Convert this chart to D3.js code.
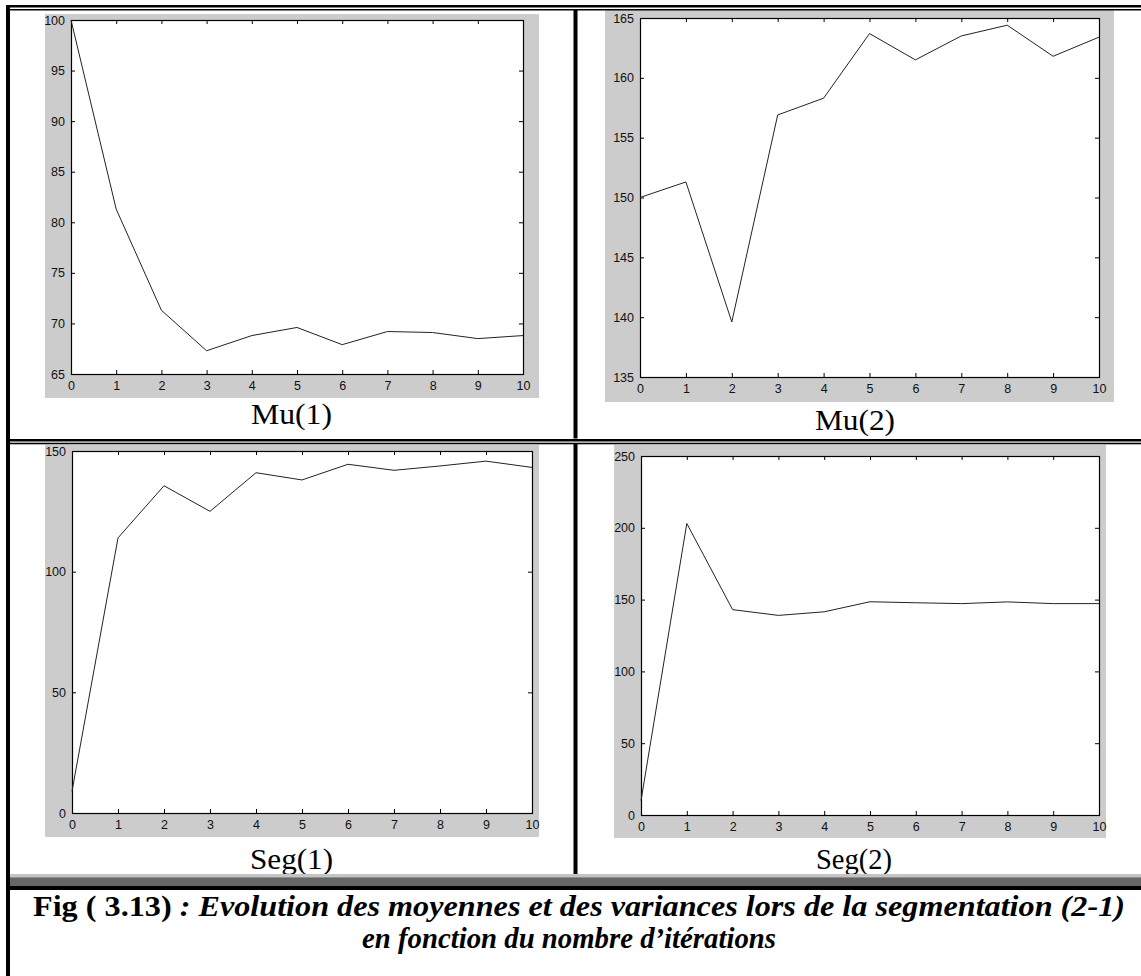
<!DOCTYPE html>
<html>
<head>
<meta charset="utf-8">
<script src="https://cdn.jsdelivr.net/npm/d3@7"></script>
<style>
  body { margin: 0; background: #fff; }
  svg { display: block; }
</style>
</head>
<body>
<script>
// iterations on the x axis
var iterations = [0, 1, 2, 3, 4, 5, 6, 7, 8, 9, 10];

// values
var mu1  = [100, 81.3, 71.3, 67.3, 68.8, 69.6, 67.9, 69.2, 69.1, 68.5, 68.8];
var mu2  = [150.0, 151.3, 139.6, 156.9, 158.3, 163.7, 161.5, 163.5, 164.4, 161.8, 163.4];
var seg1 = [9, 114, 135.6, 125, 141, 138, 144.5, 142, 143.8, 145.8, 143.2];
var seg2 = [10, 203, 143, 139, 141.5, 148.5, 147.8, 147.2, 148.4, 147.2, 147.2];

// tick labels
var mu1Ticks  = [65, 70, 75, 80, 85, 90, 95, 100];
var mu2Ticks  = [135, 140, 145, 150, 155, 160, 165];
var seg1Ticks = [0, 50, 100, 150];
var seg2Ticks = [0, 50, 100, 150, 200, 250];

var titles = ["Mu(1)", "Mu(2)", "Seg(1)", "Seg(2)"];

var sansFont  = "'Liberation Sans', Arial, sans-serif";
var serifFont = "'Liberation Serif', 'Times New Roman', serif";

// layout of the four sub figures (gray frame, axes box, label)
var layout = [
  { values: mu1,  dom: [65, 100],  ticks: mu1Ticks,
    gray: [45, 14, 539, 398],  box: [71, 20, 523, 374],  lab: [251, 424, 81] },
  { values: mu2,  dom: [135, 165], ticks: mu2Ticks,
    gray: [605, 10, 1114, 402], box: [640, 18, 1099, 377], lab: [815, 430, 80] },
  { values: seg1, dom: [0, 150],   ticks: seg1Ticks,
    gray: [45, 445, 539, 837], box: [72, 451, 532, 813], lab: [250, 869, 83] },
  { values: seg2, dom: [0, 250],   ticks: seg2Ticks,
    gray: [614, 445, 1106, 838], box: [641, 456, 1099, 815], lab: [816, 869, 76] }
];

var W = 1141, H = 976;
var svg = d3.select("body").append("svg")
    .attr("width", W)
    .attr("height", H);

// draw each sub figure
layout.forEach(function(p, k) {
  var g = svg.append("g");
  g.append("rect")
      .attr("x", p.gray[0]).attr("y", p.gray[1])
      .attr("width", p.gray[2] - p.gray[0])
      .attr("height", p.gray[3] - p.gray[1])
      .attr("fill", "#cccccc");
  g.append("rect")
      .attr("x", p.box[0]).attr("y", p.box[1])
      .attr("width", p.box[2] - p.box[0])
      .attr("height", p.box[3] - p.box[1])
      .attr("fill", "#fff");

  var x = d3.scaleLinear().domain([0, 10]).range([p.box[0], p.box[2]]);
  var y = d3.scaleLinear().domain(p.dom).range([p.box[3], p.box[1]]);

  // axes, ticks pointing inwards like matlab
  var axStyle = function(sel) {
    sel.select(".domain").remove();
    sel.selectAll("line").attr("stroke", "#000");
    sel.selectAll("text")
        .style("font-family", sansFont)
        .style("font-size", "12.5px")
        .attr("fill", "#111");
  };
  g.append("g")
      .attr("transform", "translate(0," + p.box[3] + ")")
      .call(d3.axisBottom(x).tickValues(iterations).tickFormat(d3.format("d"))
        .tickSizeInner(-4).tickSizeOuter(0).tickPadding(7))
      .call(axStyle);
  g.append("g")
      .attr("transform", "translate(0," + p.box[1] + ")")
      .call(d3.axisTop(x).tickValues(iterations.slice(1, 10)).tickFormat("")
        .tickSizeInner(-4).tickSizeOuter(0))
      .call(axStyle);
  g.append("g")
      .attr("transform", "translate(" + p.box[0] + ",0)")
      .call(d3.axisLeft(y).tickValues(p.ticks).tickFormat(d3.format("d"))
        .tickSizeInner(-4).tickSizeOuter(0).tickPadding(6))
      .call(axStyle);
  g.append("g")
      .attr("transform", "translate(" + p.box[2] + ",0)")
      .call(d3.axisRight(y).tickValues(p.ticks.slice(1, p.ticks.length - 1)).tickFormat("")
        .tickSizeInner(-4).tickSizeOuter(0))
      .call(axStyle);

  g.append("rect")
      .attr("x", p.box[0] + 0.5).attr("y", p.box[1] + 0.5)
      .attr("width", p.box[2] - p.box[0])
      .attr("height", p.box[3] - p.box[1])
      .attr("fill", "none")
      .attr("stroke", "#000")
      .attr("stroke-width", 1.2);

  var line = d3.line()
      .x(function(d, i) { return x(iterations[i]); })
      .y(function(d) { return y(d); });
  g.append("path")
      .datum(p.values)
      .attr("d", line)
      .attr("fill", "none")
      .attr("stroke", "#222")
      .attr("stroke-width", 1);

  g.append("text")
      .attr("x", p.lab[0]).attr("y", p.lab[1])
      .attr("textLength", p.lab[2])
      .attr("lengthAdjust", "spacingAndGlyphs")
      .style("font-family", serifFont)
      .style("font-size", "30px")
      .text(titles[k]);
});

// frame lines of the table
function bar(x0, y0, w, h, c) {
  svg.append("rect").attr("x", x0).attr("y", y0)
      .attr("width", w).attr("height", h).attr("fill", c);
}
bar(6, 5, W - 6, 2.5, "#000");
bar(6, 9, W - 6, 1.5, "#000");
bar(6, 5, 4, H - 5, "#000");
bar(573.5, 10, 4, 864, "#000");
bar(10, 438.5, W - 10, 5.5, "#fff");
bar(10, 439, W - 10, 2.5, "#000");
bar(10, 442.7, W - 10, 1.6, "#000");
bar(10, 874, W - 10, 3.3, "#c4c4c4");
bar(10, 877.3, W - 10, 8.7, "#666666");
bar(10, 886, W - 10, 4, "#000");

// caption
var cap = svg.append("g")
    .style("font-family", serifFont)
    .style("font-size", "30px")
    .style("font-weight", "bold")
    .attr("fill", "#000");
var l1 = cap.append("text")
    .attr("x", 33).attr("y", 916)
    .attr("textLength", 1092)
    .attr("lengthAdjust", "spacingAndGlyphs");
l1.append("tspan").text("Fig ( 3.13)");
l1.append("tspan").style("font-style", "italic")
    .text(" : Evolution des moyennes et des variances lors de la segmentation (2-1)");
cap.append("text")
    .attr("x", 362).attr("y", 948)
    .attr("textLength", 414)
    .attr("lengthAdjust", "spacingAndGlyphs")
    .style("font-style", "italic")
    .text("en fonction du nombre d\u2019it\u00e9rations");
</script>
</body>
</html>
